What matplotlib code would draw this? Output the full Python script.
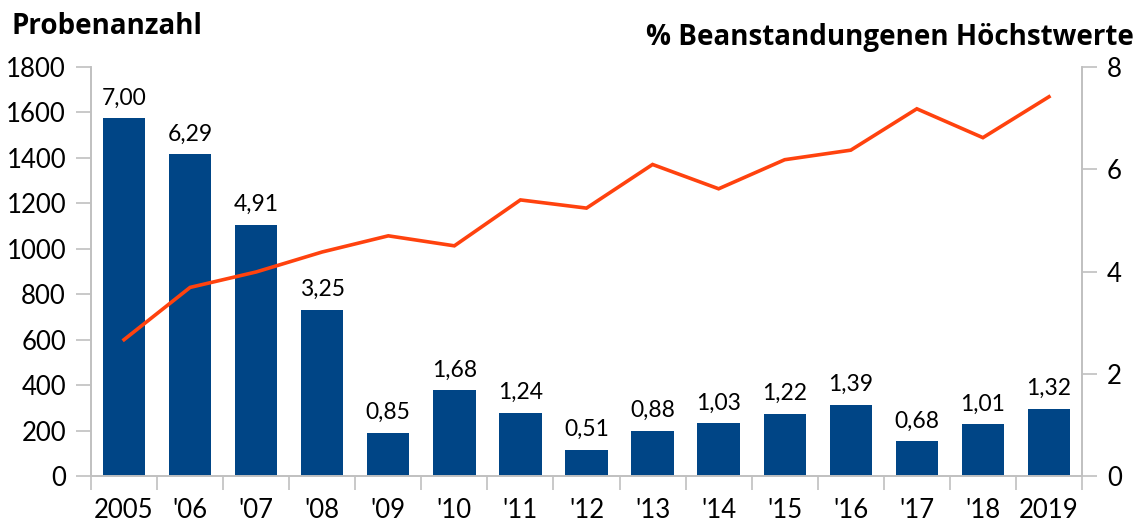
import numpy as np
import matplotlib
matplotlib.use('Agg')
import matplotlib.pyplot as plt

plt.rcParams['font.family'] = ['Lato', 'DejaVu Sans']

years = ["2005", "'06", "'07", "'08", "'09", "'10", "'11", "'12", "'13", "'14", "'15", "'16", "'17", "'18", "2019"]
proben = [600, 830, 898, 986, 1057, 1013, 1215, 1179, 1371, 1264, 1392, 1434, 1616, 1489, 1669]
beanstandet = [7.00, 6.29, 4.91, 3.25, 0.85, 1.68, 1.24, 0.51, 0.88, 1.03, 1.22, 1.39, 0.68, 1.01, 1.32]

grey = '#c0c0c0'
x = np.arange(len(years))

fig = plt.figure(figsize=(11.4, 5.23), dpi=100)
ax = fig.add_axes([91/1140, 1 - 476/523, (1082 - 91)/1140, (476 - 67)/523])
ax2 = ax.twinx()

# bars (% values) on right axis, line (sample count) on left axis drawn on top
bars = ax2.bar(x, beanstandet, width=0.64, color='#004586')
ax2.bar_label(bars, labels=[f"{v:.2f}".replace('.', ',') for v in beanstandet],
              padding=7, fontsize=16.5)
ax.plot(x, proben, color='#ff420e', linewidth=2.6, solid_joinstyle='miter')

ax.set_zorder(ax2.get_zorder() + 1)
ax.patch.set_visible(False)

ax.set_xlim(-0.5, len(years) - 0.5)
ax.set_ylim(0, 1800)
ax2.set_ylim(0, 8)
ax.set_yticks(range(0, 1801, 200))
ax2.set_yticks(range(0, 9, 2))

ax.set_xticks(x)
ax.set_xticklabels(years)
ax.set_xticks(np.arange(-0.5, len(years), 1), minor=True)
ax.tick_params(axis='x', which='major', length=0, pad=16, labelsize=18.5)
ax.tick_params(axis='x', which='minor', length=10, color=grey, width=1.2)
ax.tick_params(axis='y', length=11, color=grey, width=1.2, pad=7, labelsize=18.5)
ax2.tick_params(axis='y', length=11, color=grey, width=1.2, pad=7, labelsize=18.5)

for a in (ax, ax2):
    a.spines['top'].set_visible(False)
    for s in ('left', 'right', 'bottom'):
        a.spines[s].set_color(grey)
        a.spines[s].set_linewidth(1.2)

fig.text(12/1140, 1 - 27/523, 'Probenanzahl', fontsize=20, fontweight='bold', va='center', ha='left',
         family=['Open Sans', 'DejaVu Sans'])
fig.text(1134/1140, 1 - 38/523, '% Beanstandungenen Höchstwerte', fontsize=20, fontweight='bold',
         va='center', ha='right', family=['Open Sans', 'DejaVu Sans'])

fig.savefig('out.png', dpi=100)
